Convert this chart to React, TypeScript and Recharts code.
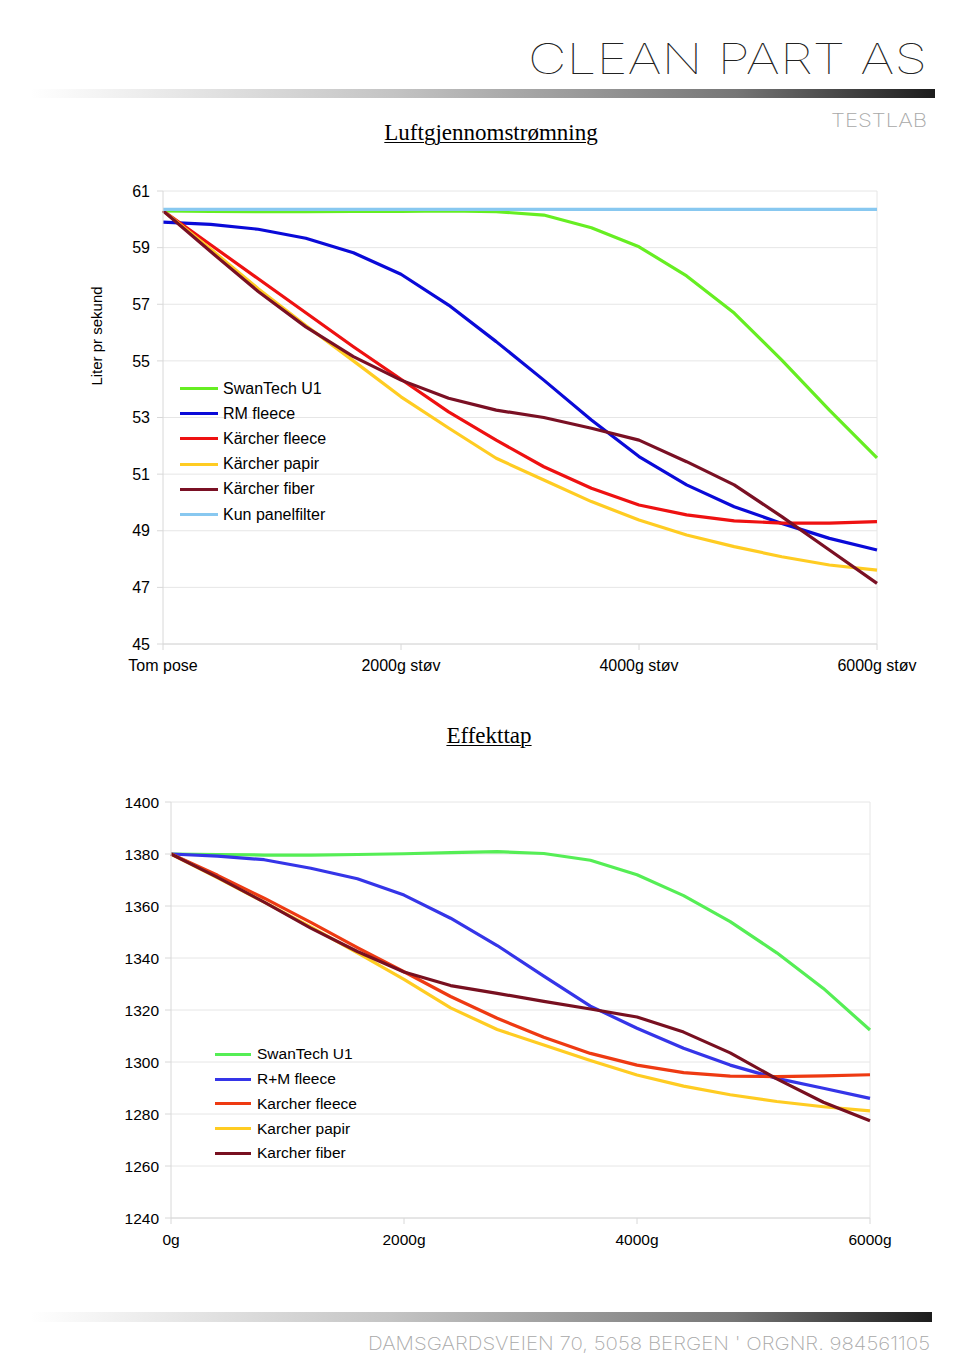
import React from 'react';
import { LineChart, Line, XAxis, YAxis, CartesianGrid, Legend, ReferenceLine, Label } from 'recharts';

// grams of dust in the bag, one reading every 400 g
const dustGrams = [0, 400, 800, 1200, 1600, 2000, 2400, 2800, 3200, 3600, 4000, 4400, 4800, 5200, 5600, 6000];

// Luftgjennomstrømning (liter pr sekund)
const flowXTicks = [0, 2000, 4000, 6000];
const flowXLabels = ['Tom pose', '2000g støv', '4000g støv', '6000g støv'];
const flowYTicks = [45, 47, 49, 51, 53, 55, 57, 59, 61];
const flowSwanTech = [60.3, 60.28, 60.27, 60.27, 60.28, 60.28, 60.3, 60.27, 60.15, 59.7, 59.03, 58.0, 56.69, 55.03, 53.26, 51.57];
const flowRmFleece = [59.9, 59.82, 59.65, 59.33, 58.82, 58.06, 56.97, 55.68, 54.32, 52.91, 51.62, 50.62, 49.85, 49.26, 48.73, 48.32];
const flowKarcherFleece = [60.3, 59.1, 57.9, 56.7, 55.5, 54.35, 53.2, 52.2, 51.26, 50.5, 49.91, 49.56, 49.35, 49.27, 49.27, 49.32];
const flowKarcherPapir = [60.3, 58.95, 57.55, 56.25, 55.0, 53.73, 52.63, 51.56, 50.79, 50.03, 49.38, 48.85, 48.44, 48.08, 47.79, 47.61];
const flowKarcherFiber = [60.3, 58.86, 57.45, 56.2, 55.15, 54.32, 53.68, 53.26, 53.0, 52.62, 52.2, 51.44, 50.62, 49.5, 48.32, 47.14];
const flowPanelOnly = [60.35, 60.35, 60.35, 60.35, 60.35, 60.35, 60.35, 60.35, 60.35, 60.35, 60.35, 60.35, 60.35, 60.35, 60.35, 60.35];

// Effekttap
const lossXTicks = [0, 2000, 4000, 6000];
const lossXLabels = ['0g', '2000g', '4000g', '6000g'];
const lossYTicks = [1240, 1260, 1280, 1300, 1320, 1340, 1360, 1380, 1400];
const lossSwanTech = [1380, 1379.8, 1379.6, 1379.6, 1379.8, 1380.1, 1380.5, 1380.9, 1380.2, 1377.6, 1372, 1364, 1354, 1342, 1328.3, 1312.3];
const lossRmFleece = [1380, 1379.2, 1377.8, 1374.5, 1370.5, 1364.2, 1355.3, 1344.8, 1333, 1321.5, 1313, 1305.3, 1298.8, 1293.7, 1289.9, 1286];
const lossKarcherFleece = [1380, 1371.8, 1363, 1353.7, 1344, 1334.7, 1325.2, 1316.8, 1309.5, 1303.3, 1298.8, 1295.9, 1294.6, 1294.4, 1294.7, 1295.1];
const lossKarcherPapir = [1380, 1370.8, 1361.5, 1352, 1342, 1331.8, 1320.8, 1312.5, 1306.5, 1300.6, 1295, 1290.7, 1287.4, 1284.8, 1282.8, 1281.2];
const lossKarcherFiber = [1380, 1371, 1361.5, 1351.5, 1342.5, 1334.6, 1329.4, 1326.4, 1323.3, 1320.4, 1317.3, 1311.5, 1303.5, 1293.5, 1284.5, 1277.4];

const flowSeries = [
  { key: 'swan', name: 'SwanTech U1', color: '#66ee22', values: flowSwanTech },
  { key: 'rm', name: 'RM fleece', color: '#0a0ad8', values: flowRmFleece },
  { key: 'kfleece', name: 'Kärcher fleece', color: '#ee1111', values: flowKarcherFleece },
  { key: 'kpapir', name: 'Kärcher papir', color: '#ffcc22', values: flowKarcherPapir },
  { key: 'kfiber', name: 'Kärcher fiber', color: '#7a1024', values: flowKarcherFiber },
  { key: 'panel', name: 'Kun panelfilter', color: '#88c8f0', values: flowPanelOnly },
];

const lossSeries = [
  { key: 'swan', name: 'SwanTech U1', color: '#55ee55', values: lossSwanTech },
  { key: 'rm', name: 'R+M fleece', color: '#3535e8', values: lossRmFleece },
  { key: 'kfleece', name: 'Karcher fleece', color: '#ee3a12', values: lossKarcherFleece },
  { key: 'kpapir', name: 'Karcher papir', color: '#ffcc22', values: lossKarcherPapir },
  { key: 'kfiber', name: 'Karcher fiber', color: '#781020', values: lossKarcherFiber },
];

const buildRows = (series: { key: string; values: number[] }[]) =>
  dustGrams.map((g, i) => {
    const row: Record<string, number> = { g };
    series.forEach((s) => (row[s.key] = s.values[i]));
    return row;
  });

const flowData = buildRows(flowSeries);
const lossData = buildRows(lossSeries);

const SANS = 'Arial, "Liberation Sans", sans-serif';
const SERIF = '"Times New Roman", "Liberation Serif", serif';
const GRID = '#e6e6e6';

// legend drawn in the same order as the series (recharts sorts by name otherwise)
function LineLegend({ payload, order, rowHeight, lineWidth, gap, fontSize }: any) {
  const items = [...(payload || [])].sort(
    (a: any, b: any) => order.indexOf(a.dataKey) - order.indexOf(b.dataKey)
  );
  return (
    <div style={{ fontFamily: SANS, fontSize, color: '#000' }}>
      {items.map((p: any) => (
        <div key={p.value} style={{ display: 'flex', alignItems: 'center', height: rowHeight }}>
          <span style={{ display: 'inline-block', width: lineWidth, height: 3, background: p.color, marginRight: gap }} />
          <span>{p.value}</span>
        </div>
      ))}
    </div>
  );
}

function Title({ text, top, center }: { text: string; top: number; center: number }) {
  return (
    <div
      style={{
        position: 'absolute',
        top,
        left: center - 200,
        width: 400,
        textAlign: 'center',
        fontFamily: SERIF,
        fontSize: 23,
        lineHeight: '26px',
        textDecoration: 'underline',
        textDecorationThickness: 1,
        textUnderlineOffset: 2,
        color: '#000',
      }}
    >
      {text}
    </div>
  );
}

function FlowChart() {
  return (
    <div style={{ position: 'absolute', left: 0, top: 170 }}>
      <LineChart width={960} height={530} data={flowData} margin={{ top: 21, right: 83, left: 103, bottom: 26 }}>
        <CartesianGrid stroke={GRID} vertical={false} />
        <XAxis
          dataKey="g"
          type="number"
          domain={[0, 6000]}
          ticks={flowXTicks}
          tickFormatter={(v: number) => flowXLabels[flowXTicks.indexOf(v)]}
          stroke="#d8d8d8"
          tick={{ fill: '#000', fontSize: 16, fontFamily: SANS }}
          tickSize={6}
          tickMargin={10}
          height={30}
          interval={0}
        />
        <YAxis
          domain={[45, 61]}
          ticks={flowYTicks}
          stroke="#d8d8d8"
          tick={{ fill: '#000', fontSize: 16, fontFamily: SANS }}
          tickSize={6}
          tickMargin={7}
          width={60}
          interval={0}
        >
          <Label
            content={({ viewBox }: any) => {
              const x = viewBox.x - 1;
              const y = viewBox.y + viewBox.height * 0.32;
              return (
                <text x={x} y={y} transform={`rotate(-90, ${x}, ${y})`} textAnchor="middle" fontFamily={SANS} fontSize={15} fill="#000">
                  Liter pr sekund
                </text>
              );
            }}
          />
        </YAxis>
        <ReferenceLine x={6000} stroke={GRID} />
        <Legend
          layout="vertical"
          align="center"
          verticalAlign="middle"
          wrapperStyle={{ left: 180, top: 206, width: 'auto' }}
          content={(props: any) => (
            <LineLegend
              payload={props.payload}
              order={flowSeries.map((s) => s.key)}
              rowHeight={25.2}
              lineWidth={38}
              gap={5}
              fontSize={16}
            />
          )}
        />
        {flowSeries.map((s) => (
          <Line
            key={s.key}
            type="linear"
            dataKey={s.key}
            name={s.name}
            stroke={s.color}
            strokeWidth={3.2}
            strokeLinejoin="round"
            dot={false}
            isAnimationActive={false}
          />
        ))}
      </LineChart>
    </div>
  );
}

function LossChart() {
  return (
    <div style={{ position: 'absolute', left: 0, top: 780 }}>
      <LineChart width={960} height={500} data={lossData} margin={{ top: 22, right: 90, left: 111, bottom: 32 }}>
        <CartesianGrid stroke={GRID} vertical={false} />
        <XAxis
          dataKey="g"
          type="number"
          domain={[0, 6000]}
          ticks={lossXTicks}
          tickFormatter={(v: number) => lossXLabels[lossXTicks.indexOf(v)]}
          stroke="#d8d8d8"
          tick={{ fill: '#000', fontSize: 15.5, fontFamily: SANS }}
          tickSize={6}
          tickMargin={10}
          height={30}
          interval={0}
        />
        <YAxis
          domain={[1240, 1400]}
          ticks={lossYTicks}
          stroke="#d8d8d8"
          tick={{ fill: '#000', fontSize: 15.5, fontFamily: SANS }}
          tickSize={6}
          tickMargin={6}
          width={60}
          interval={0}
        />
        <ReferenceLine x={6000} stroke={GRID} />
        <Legend
          layout="vertical"
          align="center"
          verticalAlign="middle"
          wrapperStyle={{ left: 215, top: 262, width: 'auto' }}
          content={(props: any) => (
            <LineLegend
              payload={props.payload}
              order={lossSeries.map((s) => s.key)}
              rowHeight={24.75}
              lineWidth={36}
              gap={6}
              fontSize={15.5}
            />
          )}
        />
        {lossSeries.map((s) => (
          <Line
            key={s.key}
            type="linear"
            dataKey={s.key}
            name={s.name}
            stroke={s.color}
            strokeWidth={3.2}
            strokeLinejoin="round"
            dot={false}
            isAnimationActive={false}
          />
        ))}
      </LineChart>
    </div>
  );
}

function PageDecor() {
  return (
    <svg width={960} height={1368} style={{ position: 'absolute', left: 0, top: 0 }}>
      <defs>
        <linearGradient id="bar" x1="0" x2="1" y1="0" y2="0">
          <stop offset="0" stopColor="#ffffff" />
          <stop offset="0.4" stopColor="#c4c4c4" />
          <stop offset="0.78" stopColor="#767676" />
          <stop offset="1" stopColor="#1c1c1c" />
        </linearGradient>
      </defs>
      <text
        x={528}
        y={74}
        textLength={399}
        lengthAdjust="spacingAndGlyphs"
        fontFamily="Inter, Lato, sans-serif"
        fontWeight={100}
        fontSize={42}
        fill="#222"
      >
        CLEAN PART AS
      </text>
      <rect x={30} y={89} width={905} height={9} fill="url(#bar)" />
      <text
        x={831}
        y={127}
        textLength={96}
        lengthAdjust="spacingAndGlyphs"
        fontFamily="Inter, Lato, sans-serif"
        fontWeight={200}
        fontSize={18.5}
        fill="#a8a8a8"
      >
        TESTLAB
      </text>
      <rect x={30} y={1312} width={902} height={10} fill="url(#bar)" />
      <text
        x={368}
        y={1350}
        textLength={562}
        lengthAdjust="spacingAndGlyphs"
        fontFamily="Inter, Lato, sans-serif"
        fontWeight={200}
        fontSize={18}
        fill="#a8a8a8"
      >
        DAMSGARDSVEIEN 70, 5058 BERGEN ' ORGNR. 984561105
      </text>
    </svg>
  );
}

export default function App() {
  return (
    <div style={{ position: 'relative', width: 960, height: 1368, margin: -8, background: '#fff', overflow: 'hidden' }}>
      <PageDecor />
      <Title text="Luftgjennomstrømning" top={120} center={491} />
      <FlowChart />
      <Title text="Effekttap" top={723} center={489} />
      <LossChart />
    </div>
  );
}
